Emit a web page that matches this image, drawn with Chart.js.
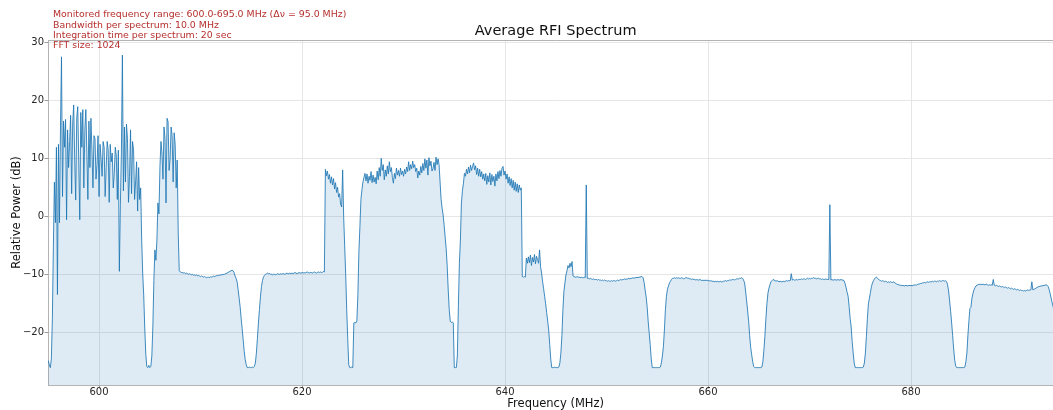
<!DOCTYPE html>
<html><head><meta charset="utf-8">
<script src="https://cdn.jsdelivr.net/npm/chart.js@4.4.1/dist/chart.umd.min.js"></script>
<style>
html,body{margin:0;padding:0;background:#fff;overflow:hidden;}
#wrap{width:1053px;height:410px;overflow:hidden;position:relative;}
canvas{position:absolute;left:0;top:0;}
</style></head><body>
<div id="wrap"><canvas id="c" width="1110" height="410"></canvas></div>
<script>
// ---- data ----
const channelStepMHz = 0.1;
const bandStartsMHz = [595, 605, 615, 625, 635, 645, 655, 665, 675, 685];

const spec600 = [
 -24.8,-25.5,-26.0,-24.5,-17.5,-5.0,6.0,-1.0,12.0,-13.4,
 12.5,-1.0,15.5,27.6,3.5,16.5,12.0,16.8,-0.5,15.0,
 8.5,13.0,17.5,4.0,16.0,19.3,10.0,2.9,17.0,19.0,
 9.5,-0.5,18.0,12.0,18.5,5.0,15.0,18.5,11.0,3.0,
 16.5,8.5,17.0,11.5,5.0,14.0,13.5,6.5,9.0,14.0,
 3.5,12.5,10.0,7.0,13.0,12.0,3.5,8.5,13.0,11.5,
 2.5,12.5,9.5,11.0,5.0,7.5,12.0,10.5,3.0,11.5,
 -9.4,2.0,11.0,27.9,4.5,15.5,6.0,16.0,13.5,2.5,
 7.0,15.0,4.0,13.0,11.5,3.0,6.0,9.5,1.0,8.5,
 3.0,5.0,-4.0,-9.7,-13.5,-19.0,-23.5,-25.8,-26.0,-25.6
];
const spec610 = [
 -26.0,-25.8,-24.0,-19.0,-11.0,-5.7,-7.5,-4.0,2.4,0.5,
 8.7,13.0,11.0,6.5,15.5,13.5,2.4,17.0,16.4,8.0,
 10.0,15.5,14.0,6.0,14.5,12.5,5.0,9.8,-2.8,-9.3,
 -9.5,-9.6,-9.6,-9.7,-9.6,-9.8,-9.7,-9.8,-9.9,-9.8,
 -9.9,-10.0,-9.9,-10.1,-10.0,-10.1,-10.0,-10.2,-10.1,-10.2,
 -10.3,-10.2,-10.3,-10.4,-10.3,-10.4,-10.5,-10.4,-10.4,-10.5,
 -10.3,-10.4,-10.3,-10.2,-10.3,-10.2,-10.1,-10.2,-10.0,-10.1,
 -10.0,-10.0,-9.9,-10.0,-9.8,-9.8,-9.7,-9.6,-9.5,-9.4,
 -9.3,-9.2,-9.3,-9.6,-10.2,-10.6,-11.2,-12.5,-14.0,-15.5,
 -17.5,-19.3,-21.2,-23.2,-24.6,-25.5,-26.0,-26.0,-25.9,-26.0
];
const spec620 = [
 -26.0,-25.9,-26.0,-25.8,-25.2,-23.5,-21.0,-18.3,-16.0,-13.8,
 -12.0,-11.0,-10.4,-10.1,-9.9,-9.8,-9.7,-9.8,-9.8,-9.9,
 -9.9,-10.0,-9.9,-9.9,-10.0,-9.9,-9.8,-9.9,-9.9,-9.8,
 -9.9,-9.8,-9.8,-9.9,-9.8,-9.7,-9.8,-9.8,-9.7,-9.8,
 -9.7,-9.8,-9.7,-9.6,-9.7,-9.8,-9.7,-9.6,-9.7,-9.7,
 -9.6,-9.7,-9.6,-9.7,-9.6,-9.5,-9.6,-9.7,-9.6,-9.6,
 -9.7,-9.6,-9.5,-9.6,-9.7,-9.6,-9.5,-9.6,-9.5,-9.6,
 -9.6,-9.4,-9.5,8.2,7.1,7.9,6.5,7.3,5.8,6.9,
 5.5,6.6,4.8,5.9,4.2,5.1,3.4,4.0,2.2,1.7,
 8.1,0.0,-5.0,-10.0,-16.0,-21.0,-25.5,-26.0,-26.0,-25.9
];
const spec630 = [
 -26.0,-18.3,-18.2,-18.3,-18.0,-13.5,-6.0,-1.7,3.0,4.7,
 6.0,6.8,7.5,6.2,7.4,5.8,7.0,6.3,7.8,5.9,
 7.2,6.0,6.8,5.7,7.9,6.4,8.5,7.0,10.1,8.0,
 9.0,6.4,8.1,7.0,8.8,7.4,9.5,7.8,8.5,6.8,
 5.8,7.5,6.6,8.4,7.2,8.0,7.0,8.4,7.3,7.9,
 7.0,8.2,7.4,8.6,7.8,9.5,8.0,9.0,8.3,9.6,
 8.5,9.0,7.8,8.4,6.7,7.9,7.2,8.7,7.6,9.2,
 8.0,10.0,8.4,9.8,7.2,10.2,8.8,9.6,7.9,8.3,
 9.4,8.0,10.3,9.0,10.0,9.0,6.0,3.0,1.5,0.3,
 -1.5,-3.5,-5.5,-8.5,-12.6,-16.0,-18.0,-18.2,-18.1,-18.3
];
const spec640 = [
 -26.0,-26.0,-26.0,-24.0,-15.5,-8.0,-4.0,2.4,4.5,5.8,
 7.5,7.0,8.2,7.4,8.6,7.6,8.9,8.0,8.7,9.3,
 8.1,8.8,7.3,8.4,7.0,8.2,6.9,7.8,6.5,7.4,
 6.2,7.5,5.6,7.1,6.0,7.6,5.5,7.3,6.1,7.0,
 5.3,7.4,6.2,7.8,6.6,8.0,7.0,8.4,8.7,7.2,
 7.9,6.5,7.4,5.8,6.9,5.4,6.6,5.0,6.3,4.6,
 6.0,4.4,5.7,4.2,5.5,4.6,5.0,-10.3,-10.4,-10.3,
 -10.4,-7.1,-8.0,-6.9,-7.9,-6.6,-8.4,-7.0,-7.8,-6.5,
 -8.1,-6.8,-7.4,-8.0,-5.7,-8.6,-9.7,-11.2,-12.4,-13.7,
 -15.0,-16.5,-18.0,-19.5,-22.0,-24.5,-26.0,-26.0,-26.0,-25.9
];
const spec650 = [
 -26.0,-26.0,-26.0,-25.9,-25.2,-23.5,-20.5,-16.0,-12.8,-11.4,
 -10.0,-9.3,-8.4,-8.8,-8.0,-8.6,-7.7,-10.2,-10.3,-10.4,
 -10.4,-10.3,-10.4,-10.4,-10.5,-10.4,-10.5,-10.5,-10.4,-10.5,
 5.5,-10.6,-10.6,-10.7,-10.6,-10.7,-10.8,-10.7,-10.8,-10.8,
 -10.8,-10.9,-10.8,-10.9,-10.9,-11.0,-10.9,-11.0,-10.9,-11.0,
 -11.0,-11.1,-11.0,-11.1,-11.1,-11.0,-11.1,-11.0,-11.0,-11.1,
 -11.0,-10.9,-11.0,-10.9,-10.8,-10.9,-10.8,-10.8,-10.7,-10.8,
 -10.7,-10.7,-10.6,-10.7,-10.6,-10.6,-10.5,-10.6,-10.5,-10.5,
 -10.4,-10.5,-10.4,-10.4,-10.3,-10.3,-10.5,-11.3,-12.6,-13.8,
 -15.5,-18.0,-20.0,-22.0,-24.5,-26.0,-26.0,-26.0,-26.0,-26.0
];
const spec660 = [
 -26.0,-26.0,-26.0,-25.9,-25.2,-24.0,-22.4,-19.5,-16.0,-13.7,
 -12.5,-11.9,-11.4,-11.1,-10.8,-10.6,-10.6,-10.5,-10.6,-10.5,
 -10.6,-10.5,-10.6,-10.6,-10.5,-10.6,-10.7,-10.6,-10.5,-10.5,
 -10.6,-10.6,-10.7,-10.7,-10.8,-10.7,-10.8,-10.8,-10.9,-10.8,
 -10.9,-10.9,-10.8,-10.9,-11.0,-10.9,-11.0,-10.9,-11.0,-10.9,
 -11.0,-11.0,-11.1,-11.0,-11.1,-11.1,-11.2,-11.1,-11.2,-11.1,
 -11.2,-11.2,-11.1,-11.2,-11.2,-11.1,-11.1,-11.0,-11.1,-11.0,
 -11.0,-10.9,-10.9,-10.9,-10.8,-10.8,-10.9,-10.8,-10.7,-10.7,
 -10.7,-10.6,-10.6,-10.5,-10.6,-10.9,-11.4,-12.8,-14.5,-16.2,
 -18.0,-20.5,-22.5,-23.8,-25.0,-25.8,-26.0,-26.0,-26.0,-26.0
];
const spec670 = [
 -26.0,-26.0,-26.0,-25.9,-25.0,-23.0,-20.6,-17.5,-15.0,-13.2,
 -12.3,-11.7,-11.2,-11.0,-10.8,-10.9,-11.0,-11.1,-11.0,-11.1,
 -11.2,-11.1,-11.2,-11.2,-11.1,-11.2,-11.1,-11.0,-11.1,-11.0,
 -11.0,-11.0,-9.8,-10.9,-10.8,-10.9,-10.9,-10.8,-10.9,-10.8,
 -10.8,-10.8,-10.7,-10.8,-10.7,-10.7,-10.8,-10.7,-10.6,-10.7,
 -10.6,-10.7,-10.6,-10.6,-10.5,-10.6,-10.6,-10.7,-10.6,-10.6,
 -10.7,-10.7,-10.8,-10.7,-10.8,-10.8,-10.7,-10.8,-10.8,-10.8,
 2.1,-10.9,-10.8,-10.9,-10.9,-10.8,-10.9,-10.9,-10.8,-10.9,
 -10.9,-10.8,-10.9,-10.9,-11.0,-11.5,-12.2,-13.0,-13.7,-15.5,
 -17.5,-19.0,-21.5,-23.5,-25.2,-26.0,-26.0,-26.0,-26.0,-26.0
];
const spec680 = [
 -26.0,-26.0,-26.0,-25.9,-25.2,-23.5,-20.6,-17.5,-15.0,-14.0,
 -13.0,-12.0,-11.4,-11.0,-10.7,-10.5,-10.4,-10.6,-10.8,-10.9,
 -11.0,-11.1,-11.0,-11.1,-11.2,-11.1,-11.2,-11.3,-11.2,-11.3,
 -11.2,-11.3,-11.3,-11.2,-11.4,-11.5,-11.6,-11.7,-11.7,-11.8,
 -11.8,-11.9,-11.8,-11.9,-11.9,-11.8,-11.9,-11.9,-11.8,-11.9,
 -11.8,-11.9,-11.8,-11.8,-11.7,-11.8,-11.7,-11.6,-11.6,-11.5,
 -11.5,-11.4,-11.4,-11.3,-11.4,-11.3,-11.2,-11.3,-11.2,-11.2,
 -11.2,-11.1,-11.2,-11.1,-11.1,-11.2,-11.1,-11.1,-11.0,-11.1,
 -11.1,-11.0,-11.0,-11.1,-11.0,-11.2,-11.7,-12.8,-14.5,-16.3,
 -18.3,-20.5,-22.8,-24.7,-25.7,-26.0,-26.0,-26.0,-26.0,-26.0
];
const spec690 = [
 -26.0,-26.0,-26.0,-25.9,-25.0,-23.5,-20.5,-18.0,-15.8,-15.6,
 -14.0,-13.2,-12.6,-12.2,-11.9,-11.8,-11.7,-11.6,-11.7,-11.6,
 -11.7,-11.6,-11.7,-11.7,-11.6,-11.7,-11.8,-11.7,-11.8,-11.7,
 -11.8,-10.8,-11.8,-11.9,-11.8,-11.9,-12.0,-11.9,-12.0,-12.1,
 -12.0,-12.1,-12.2,-12.1,-12.2,-12.3,-12.2,-12.3,-12.4,-12.3,
 -12.4,-12.5,-12.4,-12.5,-12.6,-12.5,-12.6,-12.7,-12.6,-12.7,
 -12.7,-12.8,-12.7,-12.8,-12.7,-12.6,-12.7,-12.6,-12.6,-11.2,
 -12.6,-12.5,-12.4,-12.3,-12.2,-12.1,-12.0,-12.0,-11.9,-11.9,
 -11.9,-11.8,-11.8,-11.7,-11.8,-12.0,-12.5,-13.2,-14.0,-14.8,
 -15.5,-16.5
];
const bandSpectra = [spec600, spec610, spec620, spec630, spec640, spec650, spec660, spec670, spec680, spec690];

const xTicks = [600, 620, 640, 660, 680];
const yTicks = [-20, -10, 0, 10, 20, 30];
const chartTitle = 'Average RFI Spectrum';
const infoLines = [
  'Monitored frequency range: 600.0-695.0 MHz (\u0394\u03bd = 95.0 MHz)',
  'Bandwidth per spectrum: 10.0 MHz',
  'Integration time per spectrum: 20 sec',
  'FFT size: 1024'
];

// ---- build the dataset ----
const points = [];
bandSpectra.forEach((vals, b) => {
  vals.forEach((v, j) => {
    points.push({x: +(bandStartsMHz[b] + j * channelStepMHz).toFixed(1), y: v});
  });
});

const FONT = "'DejaVu Sans', sans-serif";
const AX_COLOR = '#b3b3b3';

const framePlugin = {
  id: 'frame',
  afterDraw(chart) {
    const {ctx, chartArea: a} = chart;
    ctx.save();
    ctx.strokeStyle = AX_COLOR;
    ctx.lineWidth = 1;
    ctx.beginPath();
    ctx.moveTo(a.left, a.top + 0.5);
    ctx.lineTo(a.right, a.top + 0.5);
    ctx.moveTo(a.right - 0.5, a.top);
    ctx.lineTo(a.right - 0.5, a.bottom);
    ctx.stroke();
    // title
    ctx.fillStyle = '#111';
    ctx.font = '14.5px ' + FONT;
    ctx.textAlign = 'center';
    ctx.textBaseline = 'alphabetic';
    ctx.fillText(chartTitle, (a.left + a.right) / 2, 35);
    // info lines
    ctx.fillStyle = '#b5302e';
    ctx.font = '9.4px ' + FONT;
    ctx.textAlign = 'left';
    infoLines.forEach((t, i) => ctx.fillText(t, 53, 17.2 + i * 10.35));
    ctx.restore();
  }
};

new Chart(document.getElementById('c'), {
  type: 'line',
  data: { datasets: [{
    data: points,
    borderColor: 'rgba(31,119,180,0.95)',
    borderWidth: 0.9,
    pointRadius: 0,
    fill: 'start',
    backgroundColor: 'rgba(31,119,180,0.15)',
    tension: 0
  }]},
  options: {
    responsive: false,
    animation: false,
    devicePixelRatio: 1,
    layout: { padding: { left: 0, right: 1110 - 1063.3, top: 40, bottom: 0 } },
    plugins: { legend: { display: false }, tooltip: { enabled: false }, title: { display: false } },
    scales: {
      x: {
        type: 'linear', min: 594.97, max: 695,
        afterBuildTicks: s => { s.ticks = xTicks.map(v => ({value: v})); },
        afterFit: s => { s.height = 25; },
        ticks: { font: { family: FONT, size: 10 }, color: '#262626', padding: -2, maxRotation: 0, autoSkip: false,
                 callback: v => String(v) },
        grid: { color: '#e6e6e6', lineWidth: 1, tickLength: 3.5, tickColor: '#999', drawTicks: true },
        border: { color: AX_COLOR, width: 1 },
        title: { display: true, text: 'Frequency (MHz)', font: { family: FONT, size: 11.5 }, color: '#111', padding: { top: 0, bottom: -1 } }
      },
      y: {
        type: 'linear', min: -29, max: 30.5,
        afterBuildTicks: s => { s.ticks = yTicks.map(v => ({value: v})); },
        afterFit: s => { s.width = 48; },
        ticks: { font: { family: FONT, size: 10 }, color: '#262626', padding: 0.5,
                 callback: v => String(v).replace('-', '\u2212') },
        grid: { color: '#e6e6e6', lineWidth: 1, tickLength: 3.5, tickColor: '#999', drawTicks: true },
        border: { color: AX_COLOR, width: 1 },
        title: { display: true, text: 'Relative Power (dB)', font: { family: FONT, size: 11.5 }, color: '#111', padding: { top: 10, bottom: 0 } }
      }
    }
  },
  plugins: [framePlugin]
});
</script>
</body></html>
